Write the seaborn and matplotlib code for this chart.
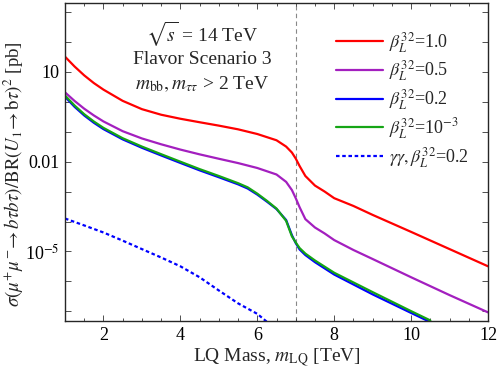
import numpy as np
import pandas as pd
import matplotlib
matplotlib.use("Agg")
import matplotlib.pyplot as plt
import matplotlib.ticker as mticker
import seaborn as sns

# ---- data ----
mass_main = [1.0, 1.25, 1.5, 1.75, 2.0, 2.5, 3.0, 3.5, 4.0, 4.5, 5.0, 5.5, 6.0, 6.5, 6.75, 6.9, 7.0, 7.1,
             7.25, 7.5, 7.75, 8.0, 8.5, 9.0, 10.0, 11.0, 12.0]
sigma_b10 = [31.6, 14.8, 7.5, 4.16, 2.51, 1.06, 0.56, 0.365, 0.268, 0.205, 0.158, 0.119, 0.083, 0.0513,
             0.0316, 0.020, 0.0126, 7.1e-3, 3.3e-3, 1.58e-3, 1.0e-3, 6.0e-4, 3.3e-4, 1.66e-4, 4.5e-5,
             1.2e-5, 3.2e-6]
sigma_b05 = [2.04, 1.05, 0.58, 0.346, 0.218, 0.103, 0.059, 0.0377, 0.0251, 0.0174, 0.0124, 8.9e-3, 6.1e-3,
             3.7e-3, 2.1e-3, 1.12e-3, 6.0e-4, 3.0e-4, 1.2e-4, 6.3e-5, 4.0e-5, 2.4e-5, 1.12e-5, 5.6e-6,
             1.38e-6, 3.5e-7, 9.3e-8]
mass_low = [1.0, 1.25, 1.5, 1.75, 2.0, 2.5, 3.0, 3.5, 4.0, 4.5, 5.0, 5.5, 5.75, 6.0, 6.25, 6.5, 6.75, 6.9,
            7.0, 7.1, 7.25, 7.5, 8.0, 9.0, 10.0, 10.5]
sigma_b02 = [1.45, 0.67, 0.345, 0.197, 0.121, 0.055, 0.0288, 0.016, 9.0e-3, 5.1e-3, 3.0e-3, 1.74e-3,
             1.26e-3, 7.9e-4, 4.6e-4, 2.6e-4, 1.12e-4, 3.5e-5, 1.9e-5, 1.17e-5, 7.6e-6, 4.4e-6, 1.7e-6,
             3.7e-7, 8.9e-8, 4.4e-8]
sigma_b1e3 = [1.6, 0.74, 0.38, 0.217, 0.133, 0.060, 0.0316, 0.0176, 9.9e-3, 5.6e-3, 3.3e-3, 1.9e-3,
              1.38e-3, 8.5e-4, 4.9e-4, 2.7e-4, 1.05e-4, 3.2e-5, 2.0e-5, 1.3e-5, 8.5e-6, 5.0e-6, 1.95e-6,
              4.4e-7, 1.02e-7, 5.0e-8]
mass_gg = [1.0, 1.5, 2.0, 2.5, 3.0, 3.5, 4.0, 4.5, 5.0, 5.5, 6.0, 6.25]
sigma_gg = [1.26e-4, 7.4e-5, 4.3e-5, 2.3e-5, 1.2e-5, 6.3e-6, 3.2e-6, 1.38e-6, 5.0e-7, 1.86e-7, 8.3e-8,
            4.5e-8]

labels = [r'$\beta_L^{32}$=1.0', r'$\beta_L^{32}$=0.5', r'$\beta_L^{32}$=0.2',
          r'$\beta_L^{32}$=10$^{-3}$', r'$\gamma\gamma,\beta_L^{32}$=0.2']
colors = ['#ff0000', '#a31fbf', '#0000ff', '#15a515', '#0000ff']

x_ticks = [2, 4, 6, 8, 10, 12]
y_ticks = [10.0, 0.01, 1e-5]
y_tick_labels = ['10', '0.01', r'10$^{-5}$']

sns.set_style('ticks')
plt.rcParams['font.family'] = ['Liberation Serif', 'DejaVu Serif']
plt.rcParams['mathtext.fontset'] = 'stix'

fig = plt.figure(figsize=(4.98, 3.70), dpi=100)
ax = fig.add_axes([0.1305, 0.1324, 0.8495, 0.8603])

series = [(mass_main, sigma_b10), (mass_main, sigma_b05), (mass_low, sigma_b02),
          (mass_low, sigma_b1e3), (mass_gg, sigma_gg)]
for i, ((mx, sy), lab, col) in enumerate(zip(series, labels, colors)):
    df = pd.DataFrame({'m': mx, 's': sy})
    ls = (0, (1.6, 1.2)) if i == 4 else '-'
    sns.lineplot(data=df, x='m', y='s', ax=ax, color=col, lw=1.6, label=lab,
                 linestyle=ls, estimator=None, sort=False)

ax.axvline(7.0, color='#888888', lw=0.8, ls=(0, (4, 3)), zorder=0)

ax.set_yscale('log')
ax.set_xlim(1, 12)
ax.set_ylim(10 ** -7.32, 10 ** 3.30)

ax.set_xticks(x_ticks)
ax.xaxis.set_minor_locator(mticker.MultipleLocator(0.5))
ax.yaxis.set_major_locator(mticker.FixedLocator([10.0 ** k for k in range(-7, 4)]))
ax.yaxis.set_minor_locator(mticker.NullLocator())
lab_map = dict(zip([int(round(np.log10(t))) for t in y_ticks], y_tick_labels))
ax.yaxis.set_major_formatter(mticker.FuncFormatter(
    lambda v, p: lab_map.get(int(round(np.log10(v))), '')))
ax.tick_params(which='both', direction='in', top=True, right=True, labelsize=13, colors='#333333',
               labelcolor='black', pad=4)
ax.tick_params(which='major', length=4, width=0.6)
ax.tick_params(which='minor', length=2.5, width=0.6)
for s in ax.spines.values():
    s.set_linewidth(1.0)

ax.set_xlabel(r'LQ Mass, $m_{\mathrm{LQ}}$ [TeV]', fontsize=14, labelpad=2)
ax.set_ylabel(r'$\sigma(\mu^{+}\mu^{-}\!\to b\tau b\tau)/\mathrm{BR}(U_1\!\to \mathrm{b}\tau)^2$ [pb]',
              fontsize=13.6)
ax.yaxis.set_label_coords(-0.091, 0.46)

ax.text(0.325, 0.899, r'$\sqrt{s}$ = 14 TeV', transform=ax.transAxes, ha='center', va='center', fontsize=14)
ax.text(0.325, 0.82, 'Flavor Scenario 3', transform=ax.transAxes, ha='center', va='center', fontsize=14)
ax.text(0.325, 0.745, r'$m_{\mathrm{bb}}, m_{\tau\tau}$ > 2 TeV', transform=ax.transAxes, ha='center',
        va='center', fontsize=14)

leg = ax.legend(loc='upper left', bbox_to_anchor=(0.607, 0.96), frameon=False, fontsize=13,
                handlelength=2.6, handletextpad=0.3, labelspacing=0.22, borderaxespad=0.4)

fig.savefig('out.png', dpi=100)
